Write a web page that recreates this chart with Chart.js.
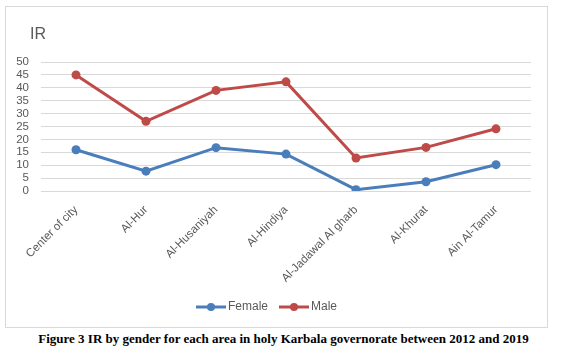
<!DOCTYPE html>
<html>
<head>
<meta charset="utf-8">
<script src="https://cdn.jsdelivr.net/npm/chart.js@4.4.1/dist/chart.umd.min.js"></script>
<style>
  html, body { margin: 0; padding: 0; background: #fff; }
  body { width: 567px; height: 354px; position: relative; overflow: hidden; }
  #box { position: absolute; left: 5px; top: 6px; width: 541px; height: 320px; border: 1px solid #d9d9d9; }
  #box canvas { position: absolute; left: 0; top: 0; }
  #ir { position: absolute; left: 24px; top: 18px; font: 16px "Liberation Sans", Arial, sans-serif; color: #595959; }
  #caption { position: absolute; left: 0; width: 567px; top: 331px; text-align: center;
             font: bold 13px "Liberation Serif", "Times New Roman", serif; color: #000; }
</style>
</head>
<body>
<div id="box">
  <canvas id="grafik" width="541" height="320"></canvas>
  <div id="ir">IR</div>
</div>
<div id="caption">Figure 3 IR by gender for each area in holy Karbala governorate between 2012 and 2019</div>
<script>
// data
const areas = ['Center of city', 'Al-Hur', 'Al-Husaniyah', 'Al-Hindiya', 'Al-Jadawal Al gharb', 'Al-Khurat', 'Ain Al-Tamur'];
const femaleIR = [16, 7.7, 16.8, 14.3, 0.5, 3.6, 10.2];
const maleIR = [45, 27, 39, 42.3, 12.8, 16.9, 24.1];
const yMin = 0, yMax = 50, yStep = 5;

const warnaFemale = '#4a7ebb';
const warnaMale = '#be4b48';
const warnaTeks = '#595959';

// legend marker: short line with a dot in the middle, like Excel
function buatIkonLegenda(warna) {
  const c = document.createElement('canvas');
  c.width = 30; c.height = 10;
  const g = c.getContext('2d');
  g.strokeStyle = warna; g.lineWidth = 3;
  g.beginPath(); g.moveTo(0, 5); g.lineTo(30, 5); g.stroke();
  g.fillStyle = warna;
  g.beginPath(); g.arc(15, 5, 4, 0, Math.PI * 2); g.fill();
  return c;
}

const ctx = document.getElementById('grafik').getContext('2d');
new Chart(ctx, {
  type: 'line',
  data: {
    labels: areas,
    datasets: [
      { label: 'Female', data: femaleIR, borderColor: warnaFemale, backgroundColor: warnaFemale,
        borderWidth: 3, pointRadius: 4.5, pointBorderWidth: 0, tension: 0 },
      { label: 'Male', data: maleIR, borderColor: warnaMale, backgroundColor: warnaMale,
        borderWidth: 3, pointRadius: 4.5, pointBorderWidth: 0, tension: 0 }
    ]
  },
  options: {
    responsive: false,
    animation: false,
    layout: { padding: { top: 55, right: 16, bottom: 4, left: 0 } },
    plugins: {
      tooltip: { enabled: false },
      legend: {
        position: 'bottom',
        labels: {
          color: warnaTeks,
          font: { family: 'Liberation Sans', size: 12 },
          padding: 15,
          usePointStyle: true,
          pointStyleWidth: 22,
          boxHeight: 10,
          generateLabels: chart => chart.data.datasets.map((ds, i) => ({
            text: ds.label,
            fontColor: warnaTeks,
            pointStyle: buatIkonLegenda(ds.borderColor),
            datasetIndex: i,
            hidden: false,
            lineWidth: 0
          }))
        }
      }
    },
    scales: {
      x: {
        offset: true,
        grid: { display: false },
        border: { display: false },
        ticks: {
          color: warnaTeks,
          font: { family: 'Liberation Sans', size: 11.5 },
          maxRotation: 45, minRotation: 45,
          autoSkip: false,
          padding: 4
        },
        afterFit: s => { s.height = 95; }
      },
      y: {
        min: yMin, max: yMax,
        grid: { color: '#d9d9d9', lineWidth: 1, drawTicks: false },
        border: { display: false },
        ticks: {
          stepSize: yStep,
          autoSkip: false,
          color: warnaTeks,
          font: { family: 'Liberation Sans', size: 11.5 },
          padding: 12
        },
        afterFit: s => { s.width = 35; }
      }
    }
  }
});
</script>
</body>
</html>
